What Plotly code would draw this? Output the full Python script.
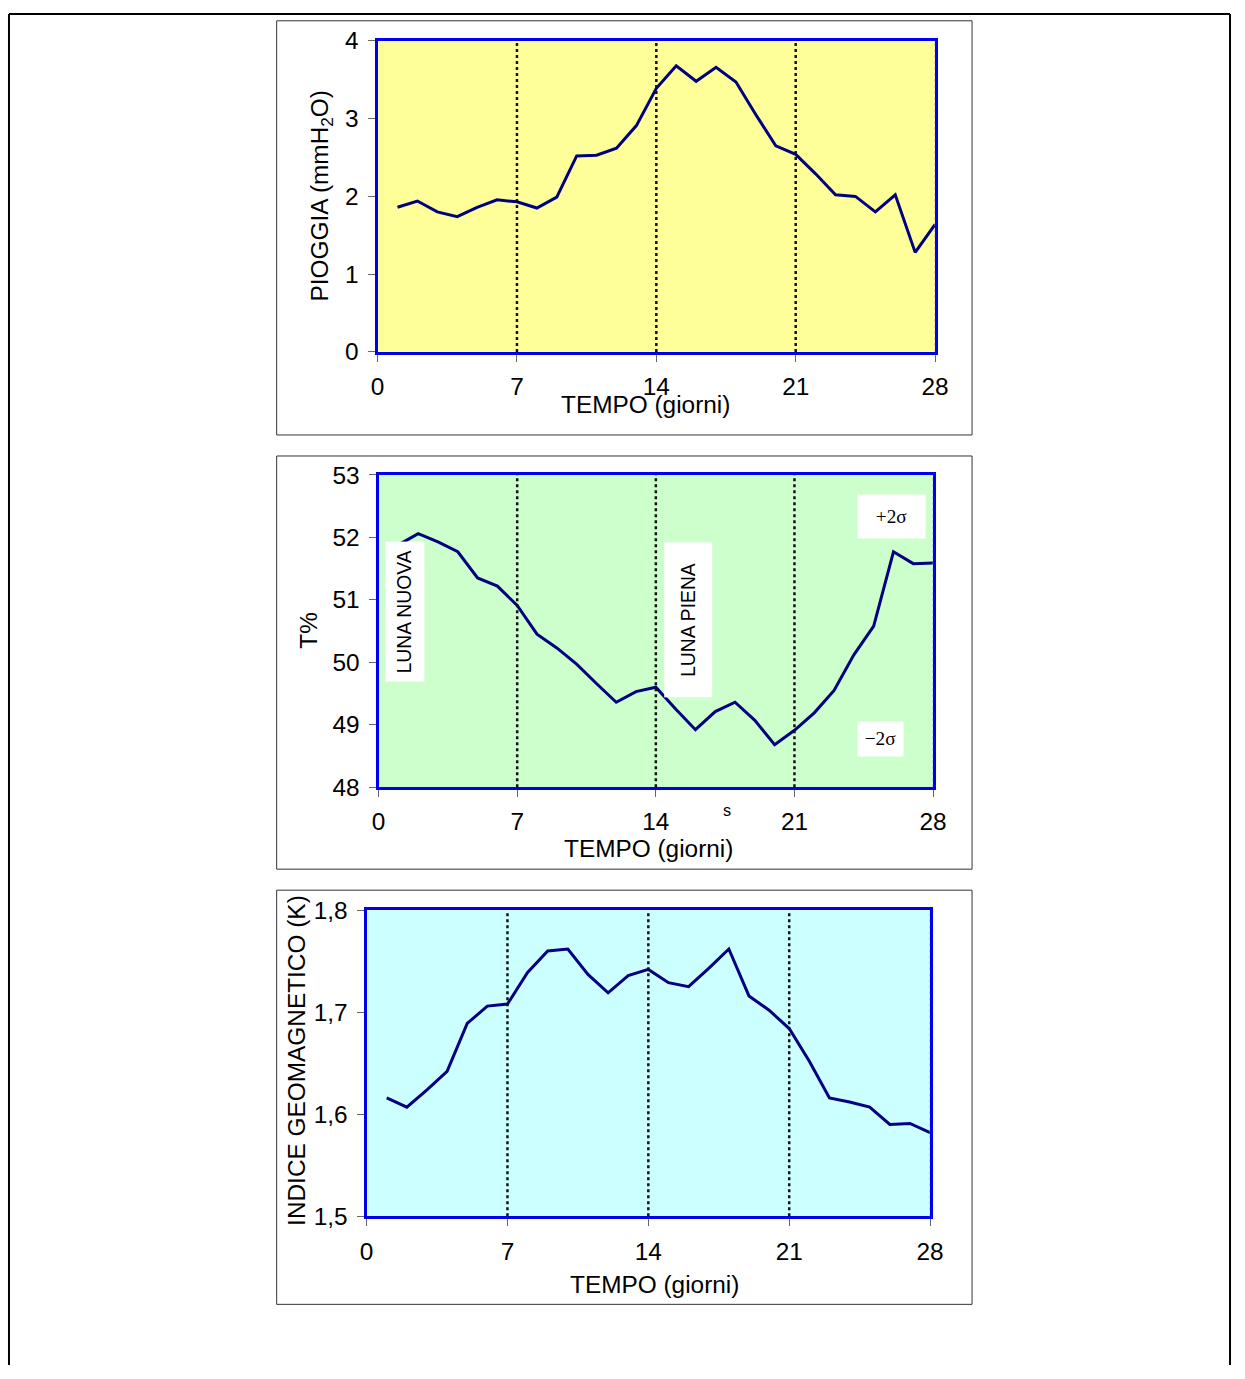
import plotly.graph_objects as go

W, H = 1245, 1379
# the photographed page is slightly shrunk and inset; positions below are the
# reference picture's pixels and are mapped back to page pixels.
SX, AX = 0.984, 7.1
SY, AY = 0.980, 13.2
FS = 1 / 0.982  # font/size compensation

days = list(range(1, 29))
pioggia = [1.86, 1.94, 1.80, 1.74, 1.86, 1.955, 1.93, 1.85, 1.99, 2.52,
           2.53, 2.62, 2.91, 3.39, 3.68, 3.48, 3.66, 3.47, 3.05, 2.65,
           2.54, 2.29, 2.02, 2.00, 1.80, 2.02, 1.28, 1.64]
tperc = [51.88, 52.06, 51.93, 51.77, 51.35, 51.22, 50.91, 50.45, 50.23, 49.97,
         49.66, 49.36, 49.53, 49.60, 49.25, 48.92, 49.21, 49.36, 49.07, 48.68,
         48.91, 49.19, 49.55, 50.12, 50.58, 51.77, 51.58, 51.59]
kindex = [1.616, 1.607, 1.624, 1.642, 1.689, 1.706, 1.708, 1.739, 1.760, 1.762,
          1.737, 1.719, 1.736, 1.742, 1.729, 1.725, 1.743, 1.762, 1.716, 1.702,
          1.684, 1.652, 1.616, 1.612, 1.607, 1.590, 1.591, 1.582]

x_ticks = [0, 7, 14, 21, 28]
phase_days = [7, 14, 21]
k_ticks = [1.5, 1.6, 1.7, 1.8]
k_ticktext = ["1,5", "1,6", "1,7", "1,8"]

FONT = "Liberation Sans, Arial, sans-serif"
SERIF = "Liberation Serif, Times New Roman, serif"
LINE = "#000080"
AXBLUE = "#0000ee"


def px(s):
    x = (s - AX) / SX
    return min(max(x, 0.0), W) / W


def py(s):
    y = (s - AY) / SY
    return 1 - min(max(y, 0.0), H) / H


def fs(v):
    return round(v * FS, 1)


# plot areas (reference-pixel boxes)
areas = [
    dict(x0=378, x1=936, y0=41, y1=352, fill="#ffff99", yr=[0, 4]),
    dict(x0=379, x1=934, y0=475, y1=787, fill="#ccffcc", yr=[48, 53]),
    dict(x0=367, x1=931, y0=910, y1=1216, fill="#ccffff", yr=[1.5, 1.8]),
]
frames = [(277, 21, 973, 435), (277, 456, 973, 869), (277, 890, 973, 1304)]
series = [pioggia, tperc, kindex]

fig = go.Figure()
layout = dict(
    width=W, height=H, margin=dict(l=0, r=0, t=0, b=0),
    paper_bgcolor="white", plot_bgcolor="white", showlegend=False,
    font=dict(family=FONT, size=fs(24), color="black"),
)
shapes = []
annotations = []

for i, (a, ys) in enumerate(zip(areas, series)):
    sfx = "" if i == 0 else str(i + 1)
    xa, ya = "x" + sfx, "y" + sfx
    fig.add_trace(go.Scatter(x=days, y=ys, mode="lines", xaxis=xa, yaxis=ya,
                             line=dict(color=LINE, width=3), hoverinfo="skip"))
    common = dict(showline=True, linecolor=AXBLUE, linewidth=3, mirror=True,
                  ticks="outside", ticklen=7, tickwidth=1, tickcolor="#666",
                  showgrid=False, zeroline=False,
                  tickfont=dict(family=FONT, size=fs(24), color="black"))
    layout["xaxis" + sfx] = dict(common, domain=[px(a["x0"]), px(a["x1"])],
                                 range=[0, 28], tickvals=x_ticks, anchor=ya,
                                 ticklabelstandoff=4)
    yax = dict(common, domain=[py(a["y1"]), py(a["y0"])], range=a["yr"],
               anchor=xa, ticklabelstandoff=4)
    if i == 2:
        yax.update(tickvals=k_ticks, ticktext=k_ticktext)
    else:
        yax.update(dtick=1)
    layout["yaxis" + sfx] = yax
    shapes.append(dict(type="rect", xref=xa + " domain", yref=ya + " domain",
                       x0=0, x1=1, y0=0, y1=1, fillcolor=a["fill"],
                       line=dict(width=0), layer="below"))
    for d in phase_days:
        shapes.append(dict(type="line", xref=xa, yref=ya + " domain",
                           x0=d, x1=d, y0=0, y1=1,
                           line=dict(color="#111", width=2.5, dash="dot")))
    shapes.append(dict(type="line", xref=xa, yref=ya + " domain",
                       x0=28, x1=28, y0=0, y1=1,
                       line=dict(color="#9a9aff", width=1, dash="dot")))

# chart frames
for (x0, y0, x1, y1) in frames:
    shapes.append(dict(type="rect", xref="paper", yref="paper",
                       x0=px(x0), x1=px(x1), y0=py(y1), y1=py(y0),
                       line=dict(color="#333", width=1)))
# page border: left, top, right
bl, bt, br = px(8.1) + 1 / W, py(8) - 1 / H, px(1243) - 1 / W
for (x0, y0, x1, y1) in [(bl, bt, bl, 0), (bl, bt, br, bt), (br, bt, br, 0)]:
    shapes.append(dict(type="line", xref="paper", yref="paper",
                       x0=x0, x1=x1, y0=y0, y1=y1,
                       line=dict(color="black", width=2)))


def ann(text, x, y, size=24, family=FONT, **kw):
    d = dict(text=text, x=px(x), y=py(y), xref="paper", yref="paper",
             showarrow=False, xanchor="center", yanchor="middle",
             font=dict(family=family, size=fs(size), color="black"))
    for k in ("width", "height"):
        if k in kw:
            kw[k] = fs(kw[k])
    d.update(kw)
    annotations.append(d)


# axis titles
ann("PIOGGIA (mmH<sub>2</sub>O)", 322, 196, textangle=-90)
ann("T%", 308, 630, textangle=-90)
ann("INDICE GEOMAGNETICO (K)", 297, 1060, textangle=-90)
ann("TEMPO (giorni)", 646, 405)
ann("TEMPO (giorni)", 649, 848)
ann("TEMPO (giorni)", 655, 1284)

# labels in the middle chart
ann("LUNA NUOVA", 405.5, 612, size=19, textangle=-90, bgcolor="white",
    width=134, height=35)
ann("LUNA PIENA", 689, 619.5, size=19, textangle=-90, bgcolor="white",
    width=149, height=44)
ann("+2σ", 892, 516, size=19, family=SERIF, bgcolor="white", width=64, height=40)
ann("\u22122σ", 881, 738.5, size=19, family=SERIF, bgcolor="white", width=42, height=31)
ann("s", 728, 810, size=16)

layout["shapes"] = shapes
layout["annotations"] = annotations
fig.update_layout(**layout)

fig.write_html("out.html", config={"displayModeBar": False},
               post_script="document.body.style.margin='0';"
                           "document.body.style.overflow='hidden';")
